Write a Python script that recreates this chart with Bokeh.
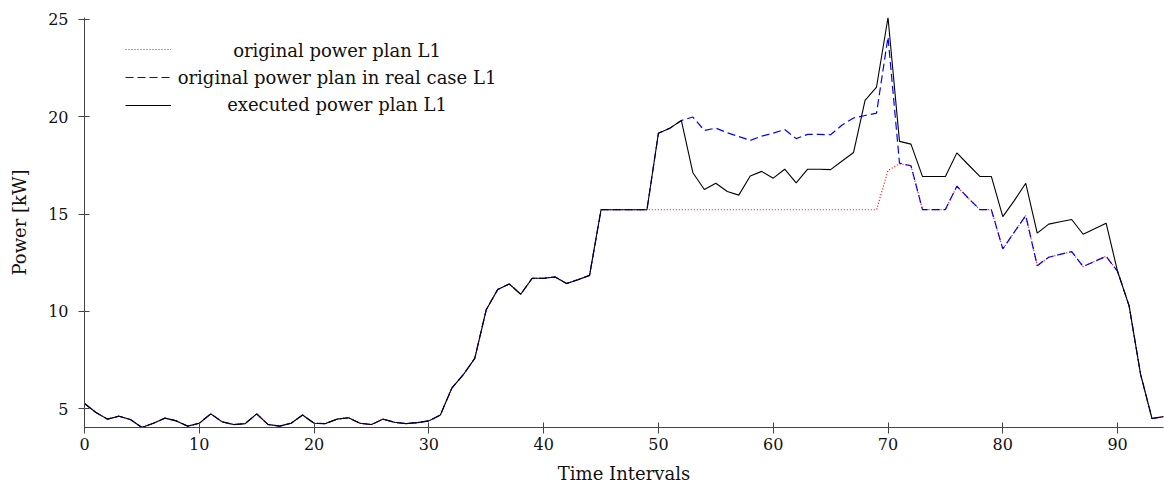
from bokeh.plotting import figure
from bokeh.models import Range1d, Legend, LegendItem, Label, FixedTicker
from bokeh.core.properties import value
from bokeh.embed import file_html
from bokeh.resources import INLINE

# ---- data ----
time_intervals = list(range(95))

executed = [5.27, 4.81, 4.47, 4.62, 4.45, 4.04, 4.26, 4.52, 4.38, 4.11,
            4.26, 4.74, 4.33, 4.19, 4.24, 4.74, 4.19, 4.11, 4.26, 4.68,
            4.26, 4.24, 4.47, 4.54, 4.26, 4.19, 4.47, 4.31, 4.24, 4.29,
            4.38, 4.68, 6.06, 6.75, 7.59, 10.09, 11.13, 11.41, 10.88, 11.70,
            11.70, 11.77, 11.43, 11.63, 11.85, 15.22, 15.22, 15.22, 15.22, 15.22,
            19.15, 19.41, 19.80, 17.12, 16.26, 16.58, 16.16, 15.97, 16.95, 17.19,
            16.84, 17.30, 16.60, 17.30, 17.30, 17.28, 17.72, 18.16, 20.84, 21.52,
            25.09, 18.73, 18.59, 16.93, 16.93, 16.93, 18.14, 17.53, 16.93, 16.93,
            14.87, 15.69, 16.58, 14.02, 14.48, 14.60, 14.72, 13.96, 14.24, 14.53,
            12.05, 10.30, 6.78, 4.50, 4.60]

original_real = [5.27, 4.81, 4.47, 4.62, 4.45, 4.04, 4.26, 4.52, 4.38, 4.11,
                 4.26, 4.74, 4.33, 4.19, 4.24, 4.74, 4.19, 4.11, 4.26, 4.68,
                 4.26, 4.24, 4.47, 4.54, 4.26, 4.19, 4.47, 4.31, 4.24, 4.29,
                 4.38, 4.68, 6.06, 6.75, 7.59, 10.09, 11.13, 11.41, 10.88, 11.70,
                 11.70, 11.77, 11.43, 11.63, 11.85, 15.22, 15.22, 15.22, 15.22, 15.22,
                 19.15, 19.41, 19.80, 19.98, 19.29, 19.41, 19.17, 18.98, 18.78, 19.00,
                 19.15, 19.34, 18.87, 19.09, 19.09, 19.07, 19.57, 19.93, 20.06, 20.18,
                 24.09, 17.61, 17.48, 15.23, 15.23, 15.23, 16.43, 15.81, 15.23, 15.23,
                 13.21, 14.07, 14.92, 12.35, 12.78, 12.93, 13.07, 12.30, 12.57, 12.83,
                 12.05, 10.30, 6.78, 4.50, 4.60]

original = [5.27, 4.81, 4.47, 4.62, 4.45, 4.04, 4.26, 4.52, 4.38, 4.11,
            4.26, 4.74, 4.33, 4.19, 4.24, 4.74, 4.19, 4.11, 4.26, 4.68,
            4.26, 4.24, 4.47, 4.54, 4.26, 4.19, 4.47, 4.31, 4.24, 4.29,
            4.38, 4.68, 6.06, 6.75, 7.59, 10.09, 11.13, 11.41, 10.88, 11.70,
            11.70, 11.77, 11.43, 11.63, 11.85, 15.22, 15.22, 15.22, 15.22, 15.22,
            15.22, 15.22, 15.22, 15.22, 15.22, 15.22, 15.22, 15.22, 15.22, 15.22,
            15.22, 15.22, 15.22, 15.22, 15.22, 15.22, 15.22, 15.22, 15.22, 15.22,
            17.24, 17.58, 17.48, 15.23, 15.23, 15.23, 16.43, 15.81, 15.23, 15.23,
            13.21, 14.07, 14.92, 12.35, 12.78, 12.93, 13.07, 12.30, 12.57, 12.83,
            12.05, 10.30, 6.78, 4.50, 4.60]

x_ticks = [0, 10, 20, 30, 40, 50, 60, 70, 80, 90]
y_ticks = [5, 10, 15, 20, 25]
legend_labels = ["original power plan L1",
                 "original power plan in real case L1",
                 "executed power plan L1"]

FONT = "DejaVu Serif"
AX = "#444444"

all_vals = executed + original_real + original
ymin, ymax = min(all_vals), max(all_vals)

p = figure(width=1164, height=487, output_backend="svg", toolbar_location=None,
           x_range=Range1d(0, 94), y_range=Range1d(ymin, ymax),
           min_border_left=84, min_border_right=1, min_border_top=17,
           min_border_bottom=60)
p.background_fill_color = "white"
p.border_fill_color = "white"
p.outline_line_color = None
p.grid.visible = False

r_red = p.line(time_intervals, original, line_color="#ff0000", line_width=1.2,
               line_dash="1 2")
r_blue = p.line(time_intervals, original_real, line_color="#0000ff", line_width=1.2,
                line_dash="8 4")
r_black = p.line(time_intervals, executed, line_color="black", line_width=1.1)

# axes
p.xaxis.ticker = FixedTicker(ticks=x_ticks)
p.yaxis.ticker = FixedTicker(ticks=y_ticks)
for ax in (p.xaxis, p.yaxis):
    ax.minor_tick_line_color = None
    ax.major_tick_in = 5
    ax.major_tick_out = 6
    ax.axis_line_color = AX
    ax.major_tick_line_color = AX
    ax.major_label_text_font = FONT
    ax.major_label_text_font_size = "16px"
    ax.major_label_text_color = "#111111"
    ax.axis_label_text_font = FONT
    ax.axis_label_text_font_size = "18px"
    ax.axis_label_text_font_style = "normal"
    ax.axis_label_text_color = "#111111"
p.xaxis.axis_label = "Time Intervals"
p.yaxis.axis_label = "Power [kW]"
p.xaxis.major_label_standoff = 4
p.xaxis.axis_label_standoff = 10
p.yaxis.major_label_standoff = 10
p.yaxis.axis_label_standoff = 15

# legend: line samples from Bokeh, centred labels as text annotations
legend = Legend(items=[LegendItem(label=value(""), renderers=[r]) for r in (r_red, r_blue, r_black)],
                location=(41, 312), glyph_width=46, glyph_height=20, label_height=20,
                spacing=8, padding=0, margin=0, label_standoff=0, label_width=0,
                border_line_alpha=0, background_fill_alpha=0)
p.add_layout(legend)

frame_h = 487 - 17 - 60
scale = frame_h / (ymax - ymin)
legend_rows_px = [33, 60, 87]  # offsets from frame top
legend_x = 22.0
for txt, off in zip(legend_labels, legend_rows_px):
    p.add_layout(Label(x=legend_x, y=ymax - off / scale, text=txt,
                       text_align="center", text_baseline="middle",
                       text_font=FONT, text_font_size="18px", text_color="#111111"))

open("out.html", "w").write(file_html(p, INLINE))
